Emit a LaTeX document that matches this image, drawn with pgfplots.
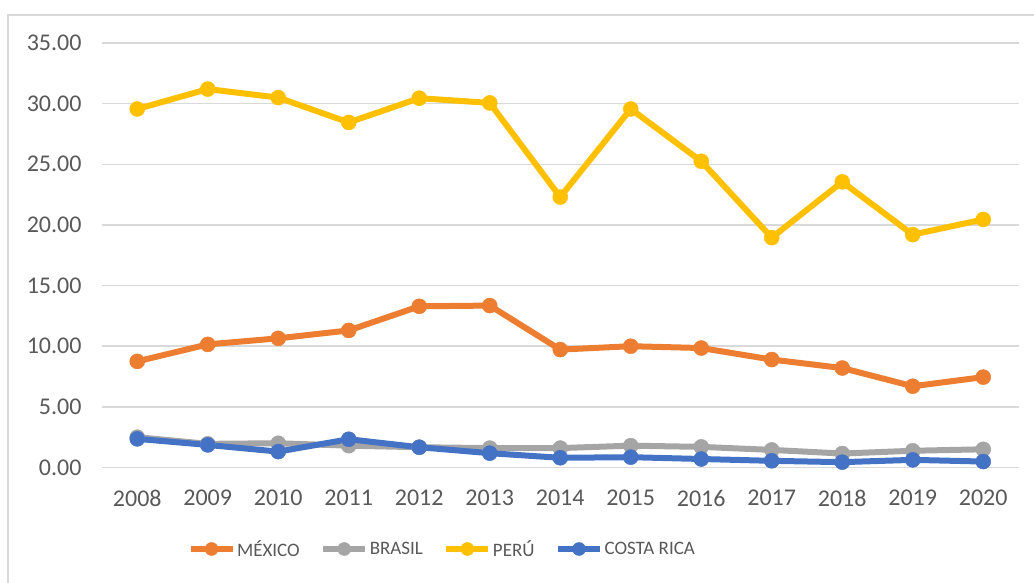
\documentclass[border=0pt]{standalone}
\usepackage{pgfplots}
\pgfplotsset{compat=1.18}
\usepackage{fontspec}
\setmainfont{Carlito}
\definecolor{cmex}{HTML}{ED7D31}
\definecolor{cbra}{HTML}{A5A5A5}
\definecolor{cper}{HTML}{FFC000}
\definecolor{ccr}{HTML}{4472C4}
\definecolor{txt}{HTML}{595959}
\definecolor{grd}{HTML}{D9D9D9}
\begin{document}
\begin{tikzpicture}[x=1pt,y=1pt]
\useasboundingbox (0,0) rectangle (1034,583);
\draw[grd,line width=1.5pt] (8,-2) -- (8,568) -- (1040,568);
\begin{axis}[
  at={(102pt,115.5pt)}, anchor=origin,
  scale only axis, width=916.5pt, height=424.5pt,
  xmin=2007.5, xmax=2020.5, ymin=0, ymax=35,
  xtick={2008,...,2020}, ytick={0,5,...,35},
  axis line style={draw=none},
  major tick length=0pt,
  ymajorgrids, grid style={grd,line width=1.5pt},
  font=\fontsize{24}{28}\selectfont,
  tick label style={txt},
  /pgf/number format/assume math mode=true,
  x tick label style={/pgf/number format/1000 sep={},yshift=-19pt},
  y tick label style={/pgf/number format/.cd,fixed,fixed zerofill,precision=2,/tikz/.cd,xshift=-17pt},
  every axis plot/.append style={line width=6pt, mark=*, mark size=7.5pt, mark options={solid,line width=0.5pt}},
  legend columns=4,
  legend style={at={(axis description cs:0.371,-0.192)}, anchor=center, draw=none,
    font=\fontsize{19}{22}\selectfont, text=txt,
    nodes={inner xsep=1.5pt},
    /tikz/every even column/.append style={column sep=19pt}},
  legend image code/.code={\draw[mark repeat=2,mark phase=2,mark size=6.5pt] plot coordinates {(0pt,0pt) (21pt,0pt) (42pt,0pt)};},
]
\addplot[cmex] coordinates {(2008,8.75) (2009,10.15) (2010,10.65) (2011,11.3) (2012,13.29) (2013,13.35) (2014,9.72) (2015,10.0) (2016,9.85) (2017,8.9) (2018,8.2) (2019,6.7) (2020,7.45)};
\addlegendentry{MÉXICO}
\addplot[cbra] coordinates {(2008,2.5) (2009,1.95) (2010,2.0) (2011,1.8) (2012,1.67) (2013,1.6) (2014,1.6) (2015,1.8) (2016,1.7) (2017,1.45) (2018,1.15) (2019,1.38) (2020,1.5)};
\addlegendentry{BRASIL}
\addplot[cper] coordinates {(2008,29.56) (2009,31.2) (2010,30.5) (2011,28.45) (2012,30.45) (2013,30.06) (2014,22.3) (2015,29.56) (2016,25.25) (2017,18.95) (2018,23.55) (2019,19.2) (2020,20.45)};
\addlegendentry{PERÚ}
\addplot[ccr] coordinates {(2008,2.36) (2009,1.86) (2010,1.31) (2011,2.33) (2012,1.67) (2013,1.18) (2014,0.8) (2015,0.85) (2016,0.7) (2017,0.55) (2018,0.44) (2019,0.63) (2020,0.49)};
\addlegendentry{COSTA RICA}
\end{axis}
\end{tikzpicture}
\end{document}
